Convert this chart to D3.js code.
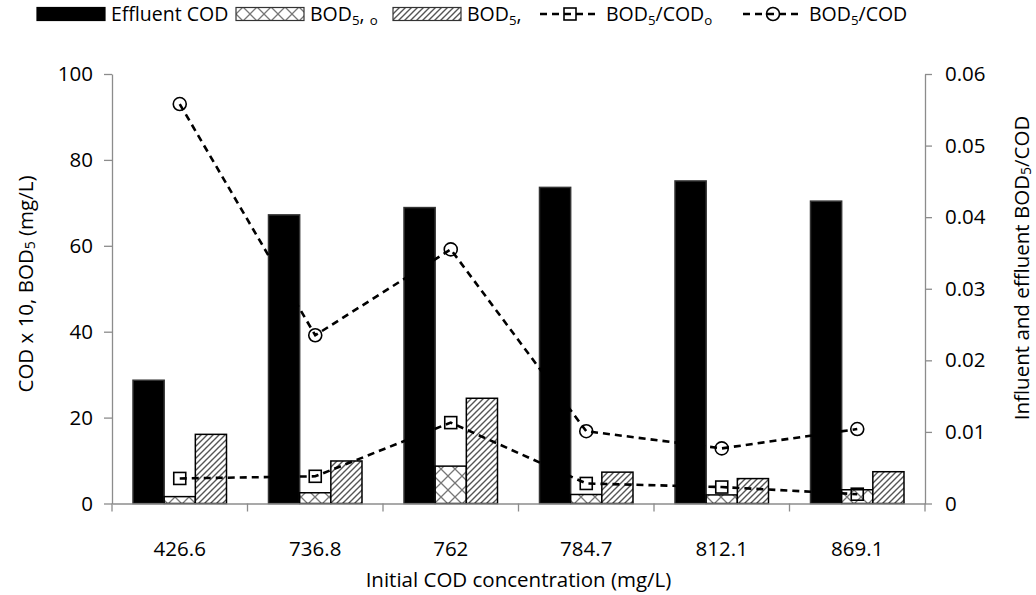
<!DOCTYPE html>
<html>
<head>
<meta charset="utf-8">
<script src="https://cdn.jsdelivr.net/npm/d3@7/dist/d3.min.js"></script>
<style>
  html, body { margin: 0; padding: 0; background: #fff; }
  svg { display: block; font-family: "Open Sans", Lato, sans-serif; }
</style>
</head>
<body>
<svg id="chart" width="1036" height="595"></svg>
<script>
// Initial COD concentration (mg/L) for each run
const categories = ["426.6", "736.8", "762", "784.7", "812.1", "869.1"];
// Effluent COD (shown as COD x 10, mg/L)
const effluentCOD = [28.7, 67.2, 68.9, 73.6, 75.1, 70.4];
// Influent BOD5 (mg/L)
const bodInfluent = [1.6, 2.5, 8.7, 2.1, 2.0, 3.2];
// Effluent BOD5 (mg/L)
const bodEffluent = [16.1, 9.9, 24.5, 7.3, 5.8, 7.4];
// Influent BOD5/COD ratio
const ratioInfluent = [0.0035, 0.0038, 0.0113, 0.0028, 0.0023, 0.0013];
// Effluent BOD5/COD ratio
const ratioEffluent = [0.0558, 0.0235, 0.0355, 0.0101, 0.0077, 0.0104];

const leftTicks = [0, 20, 40, 60, 80, 100];
const rightTicks = [0, 0.01, 0.02, 0.03, 0.04, 0.05, 0.06];

const svg = d3.select("#chart");
const plot = { left: 112, right: 925, top: 74, bottom: 503.5 };
const axisColor = "#8c8c8c";
const fontSize = 20.5;
const legendFont = 19.5;
const fontFamily = "'Open Sans', Lato, sans-serif";

// patterns for the two BOD5 bar series
const defs = svg.append("defs");
const cross = defs.append("pattern")
  .attr("id", "crossHatch").attr("patternUnits", "userSpaceOnUse")
  .attr("width", 14).attr("height", 14);
cross.append("rect").attr("width", 14).attr("height", 14).attr("fill", "#fff");
cross.append("path").attr("d", "M0,0 L14,14 M14,0 L0,14")
  .attr("stroke", "#777").attr("stroke-width", 1.3);

const diag = defs.append("pattern")
  .attr("id", "diagHatch").attr("patternUnits", "userSpaceOnUse")
  .attr("width", 6).attr("height", 6);
diag.append("rect").attr("width", 6).attr("height", 6).attr("fill", "#fff");
diag.append("path").attr("d", "M-1.5,1.5 L1.5,-1.5 M0,6 L6,0 M4.5,7.5 L7.5,4.5")
  .attr("stroke", "#555").attr("stroke-width", 1.4);

// scales
const x = d3.scaleBand().domain(categories).range([plot.left, plot.right]).padding(0);
const bw = x.bandwidth();
const seriesKeys = ["cod", "bodIn", "bodOut"];
const xSub = d3.scaleBand().domain(seriesKeys).range([bw * 0.155, bw * 0.845]).padding(0);
const yL = d3.scaleLinear().domain([0, 100]).range([plot.bottom, plot.top]);
const yR = d3.scaleLinear().domain([0, 0.06]).range([plot.bottom, plot.top]);

// bars
const barSeries = [
  { key: "cod", values: effluentCOD, fill: "#000", stroke: "#333" },
  { key: "bodIn", values: bodInfluent, fill: "url(#crossHatch)", stroke: "#000" },
  { key: "bodOut", values: bodEffluent, fill: "url(#diagHatch)", stroke: "#000" }
];
const barLayer = svg.append("g");
barSeries.forEach(s => {
  barLayer.append("g").selectAll("rect")
    .data(categories.map((c, i) => ({ c, v: s.values[i] })))
    .join("rect")
    .attr("x", d => x(d.c) + xSub(s.key))
    .attr("y", d => yL(d.v))
    .attr("width", xSub.bandwidth())
    .attr("height", d => yL(0) - yL(d.v))
    .attr("fill", s.fill)
    .attr("stroke", s.stroke)
    .attr("stroke-width", 1.5);
});

// axes
function styleAxis(g) {
  g.selectAll(".domain").attr("stroke", axisColor).attr("stroke-width", 1.3);
  g.selectAll(".tick line").attr("stroke", axisColor).attr("stroke-width", 1.3);
  g.selectAll(".tick text").attr("fill", "#000").attr("font-size", fontSize)
    .attr("font-family", fontFamily);
}

svg.append("g")
  .attr("transform", `translate(${plot.left},0)`)
  .call(d3.axisLeft(yL).tickValues(leftTicks).tickSize(8).tickPadding(11).tickSizeOuter(0))
  .call(styleAxis);

svg.append("g")
  .attr("transform", `translate(${plot.right},0)`)
  .call(d3.axisRight(yR).tickValues(rightTicks).tickFormat(d => d === 0 ? "0" : d3.format(".2f")(d))
    .tickSize(7).tickPadding(13).tickSizeOuter(0))
  .call(styleAxis);

const xAxisG = svg.append("g")
  .attr("transform", `translate(0,${plot.bottom})`)
  .call(d3.axisBottom(x).tickSize(0).tickPadding(38).tickSizeOuter(0))
  .call(styleAxis);
// category boundary ticks
xAxisG.append("g").selectAll("line")
  .data(categories.map(c => x(c)).concat([plot.right]))
  .join("line")
  .attr("x1", d => d).attr("x2", d => d)
  .attr("y1", 0).attr("y2", 8)
  .attr("stroke", axisColor).attr("stroke-width", 1.3);

// ratio lines (drawn above bars; markers left unfilled)
const lineGen = yScale => d3.line()
  .x((d, i) => x(categories[i]) + bw / 2)
  .y(d => yScale(d));

const lineLayer = svg.append("g");
function drawRatio(values, shape) {
  lineLayer.append("path")
    .datum(values)
    .attr("d", lineGen(yR))
    .attr("fill", "none")
    .attr("stroke", "#000")
    .attr("stroke-width", 2.6)
    .attr("stroke-dasharray", "7,5");
  const pts = lineLayer.append("g").selectAll("g")
    .data(values.map((v, i) => ({ cx: x(categories[i]) + bw / 2, cy: yR(v) })))
    .join("g")
    .attr("transform", d => `translate(${d.cx},${d.cy})`);
  if (shape === "square") {
    pts.append("rect").attr("x", -6).attr("y", -6).attr("width", 12).attr("height", 12)
      .attr("fill", "none").attr("stroke", "#000").attr("stroke-width", 1.6);
  } else {
    pts.append("circle").attr("r", 6.5)
      .attr("fill", "none").attr("stroke", "#000").attr("stroke-width", 1.6);
  }
}
drawRatio(ratioInfluent, "square");
drawRatio(ratioEffluent, "circle");

// text with subscript parts
function richText(sel, parts, size) {
  parts.forEach(p => {
    const ts = sel.append("tspan").text(p.t);
    if (p.sub) ts.attr("font-size", size * 0.68).attr("baseline-shift", "-4");
  });
}

// axis titles
const leftTitle = svg.append("text")
  .attr("transform", "translate(25,284) rotate(-90)")
  .attr("dominant-baseline", "central")
  .attr("text-anchor", "middle").attr("font-size", fontSize).attr("fill", "#000");
richText(leftTitle, [{ t: "COD x 10, BOD" }, { t: "5", sub: true }, { t: " (mg/L)" }], fontSize);

const rightTitle = svg.append("text")
  .attr("transform", "translate(1021,268) rotate(-90)")
  .attr("dominant-baseline", "central")
  .attr("text-anchor", "middle").attr("font-size", fontSize).attr("fill", "#000");
richText(rightTitle, [{ t: "Influent and effluent BOD" }, { t: "5", sub: true }, { t: "/COD" }], fontSize);

svg.append("text")
  .attr("x", (plot.left + plot.right) / 2).attr("y", 587)
  .attr("text-anchor", "middle").attr("font-size", fontSize).attr("fill", "#000")
  .text("Initial COD concentration (mg/L)");

// legend
const legend = svg.append("g").attr("font-size", legendFont);
const legendY = 14;
const legendItems = [
  { type: "bar", fill: "#000", x: 37, label: [{ t: "Effluent COD" }] },
  { type: "bar", fill: "url(#crossHatch)", x: 236, label: [{ t: "BOD" }, { t: "5", sub: true }, { t: ", " }, { t: "o", sub: true }] },
  { type: "bar", fill: "url(#diagHatch)", x: 393, label: [{ t: "BOD" }, { t: "5", sub: true }, { t: "," }] },
  { type: "square", x: 540, label: [{ t: "BOD" }, { t: "5", sub: true }, { t: "/COD" }, { t: "o", sub: true }] },
  { type: "circle", x: 743, label: [{ t: "BOD" }, { t: "5", sub: true }, { t: "/COD" }] }
];
legendItems.forEach(it => {
  const g = legend.append("g").attr("transform", `translate(${it.x},${legendY})`);
  if (it.type === "bar") {
    g.append("rect").attr("x", 0).attr("y", -6.5).attr("width", 68).attr("height", 13)
      .attr("fill", it.fill).attr("stroke", it.fill === "#000" ? "#000" : "#333").attr("stroke-width", 1.2);
  } else {
    g.append("line").attr("x1", 0).attr("x2", 60).attr("y1", 0).attr("y2", 0)
      .attr("stroke", "#000").attr("stroke-width", 2.6).attr("stroke-dasharray", "7,5");
    if (it.type === "square") {
      g.append("rect").attr("x", 24).attr("y", -6).attr("width", 12).attr("height", 12)
        .attr("fill", "none").attr("stroke", "#000").attr("stroke-width", 1.6);
    } else {
      g.append("circle").attr("cx", 30).attr("r", 6.5)
        .attr("fill", "none").attr("stroke", "#000").attr("stroke-width", 1.6);
    }
  }
  const t = g.append("text").attr("x", it.type === "bar" ? 74 : 66).attr("y", 7).attr("fill", "#000");
  richText(t, it.label, legendFont);
});
</script>
</body>
</html>
